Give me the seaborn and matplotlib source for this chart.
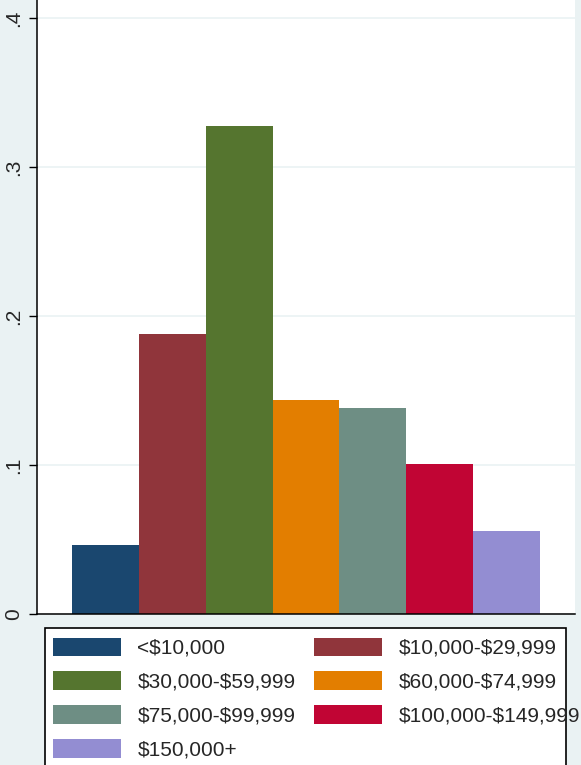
import matplotlib
matplotlib.use("Agg")
import matplotlib.pyplot as plt
from matplotlib.patches import Patch, Rectangle
import pandas as pd
import seaborn as sns

# income groups and share of households
categories = ["<$10,000", "$10,000-$29,999", "$30,000-$59,999", "$60,000-$74,999",
              "$75,000-$99,999", "$100,000-$149,999", "$150,000+"]
shares = [0.0463, 0.188, 0.3275, 0.1436, 0.138, 0.101, 0.0557]
colors = ["#1a476f", "#90353b", "#55752f", "#e37e00", "#6e8e84", "#c10534", "#938dd2"]
ytick_vals = [0, 0.1, 0.2, 0.3, 0.4]
ytick_labels = ["0", ".1", ".2", ".3", ".4"]

BG = "#EAF2F3"

sns.set_style("white")
plt.rcParams["font.family"] = ["Liberation Sans", "DejaVu Sans"]
plt.rcParams["text.parse_math"] = False  # keep the dollar signs literal

W, H = 581, 765
fig = plt.figure(figsize=(W / 100, H / 100), dpi=100, facecolor=BG)
ax = fig.add_axes([37 / W, 1 - 614 / H, (575 - 37) / W, 614 / H])
ax.set_facecolor("white")

df = pd.DataFrame({"income": categories, "share": shares})
sns.barplot(data=df, x="income", y="share", hue="income", palette=colors,
            width=1, saturation=1, linewidth=0, legend=False, ax=ax, zorder=2)

ax.set_xlim(-1.0235, 7.0235)
ax.set_ylim(0, 0.4 + 18 / 1490)
ax.set_yticks(ytick_vals, ytick_labels)
ax.set_xticks([])
ax.set_xlabel("")
ax.set_ylabel("")
ax.grid(axis="y", color="#eaf2f3", lw=1.2, zorder=0)
ax.set_axisbelow(True)
for s in ["top", "right"]:
    ax.spines[s].set_visible(False)
for s in ["left", "bottom"]:
    ax.spines[s].set_color("black")
    ax.spines[s].set_linewidth(1.1)
ax.tick_params(axis="y", direction="out", length=6, width=1, color="black",
               labelsize=15, pad=4, left=True)
for lab in ax.get_yticklabels():
    lab.set_rotation(90)
    lab.set_va("center")
    lab.set_ha("right")

# legend (Stata order: row-major, two columns)
handles = [Patch(facecolor=c, edgecolor="none") for c in colors]
order = [0, 2, 4, 6, 1, 3, 5]
fig.add_artist(Rectangle((45 / W, -0.05), (566 - 45) / W, 0.05 + 1 - 628 / H,
                         transform=fig.transFigure, facecolor="white",
                         edgecolor="black", lw=1.2, zorder=1))
leg = fig.legend([handles[i] for i in order], [categories[i] for i in order],
                 loc="upper left", bbox_to_anchor=(53 / W, 1 - 637.5 / H),
                 ncol=2, frameon=False, fontsize=15, borderpad=0, borderaxespad=0,
                 handlelength=3.25, handleheight=1.0, handletextpad=0.8,
                 columnspacing=0.9, labelspacing=0.64)
leg.set_zorder(2)

fig.savefig("out.png", dpi=100, facecolor=BG)
